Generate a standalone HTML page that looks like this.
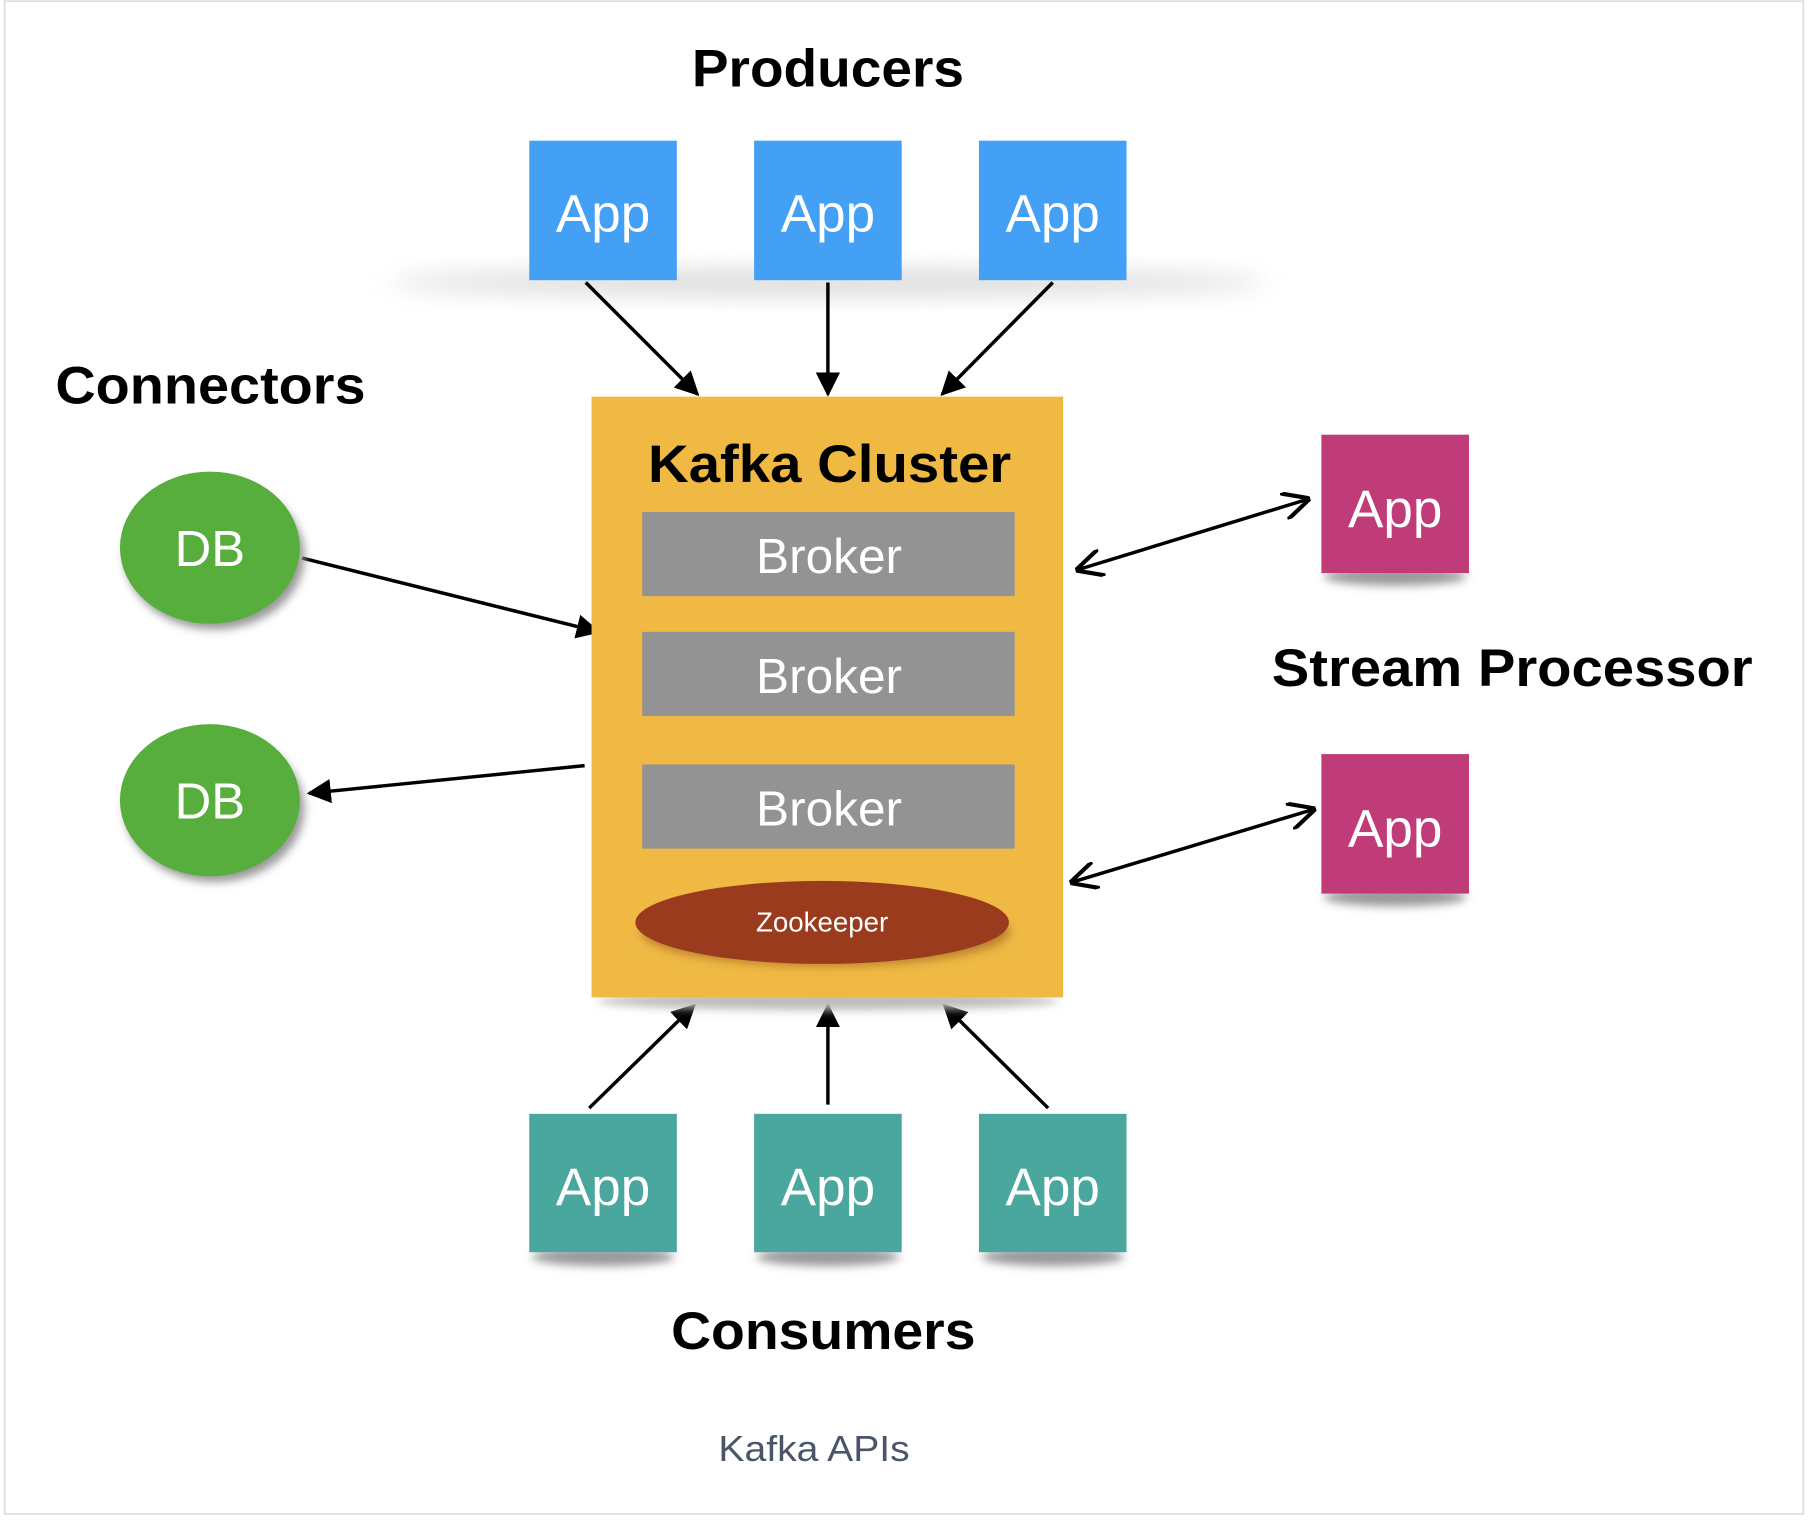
<!DOCTYPE html>
<html><head><meta charset="utf-8"><style>html,body{margin:0;padding:0;background:#fff}svg{display:block}</style></head>
<body>
<svg width="1808" height="1522" viewBox="0 0 1568 1320" xmlns="http://www.w3.org/2000/svg" font-family="Liberation Sans, sans-serif">
<defs>
<marker id="ah" viewBox="0 0 10 10" refX="9" refY="5" markerWidth="7" markerHeight="7" orient="auto-start-reverse"><path d="M0,0 L10,5 L0,10 z" fill="#000"/></marker>
<marker id="ao" viewBox="0 0 10 10" refX="9" refY="5" markerWidth="8" markerHeight="8" orient="auto-start-reverse"><path d="M0,0 L10,5 L0,10" fill="none" stroke="#000" stroke-width="1.5"/></marker>
<filter id="bl" x="-50%" y="-50%" width="200%" height="200%"><feGaussianBlur stdDeviation="10"/></filter>
<filter id="bs" x="-20%" y="-50%" width="140%" height="200%"><feGaussianBlur stdDeviation="4"/></filter>
</defs>
<rect x="4" y="1" width="1560" height="1312" fill="#fff" stroke="#ddd" stroke-width="1.5"/>
<text x="600" y="75" font-size="46" font-weight="bold" textLength="236" lengthAdjust="spacingAndGlyphs">Producers</text>
<ellipse cx="718" cy="245" rx="380" ry="12" fill="#ddd" filter="url(#bl)"/>
<g font-size="46" fill="#fff" text-anchor="middle">
<rect x="459" y="122" width="128" height="121" fill="#44a0f5"/><text x="523" y="201">App</text>
<rect x="654" y="122" width="128" height="121" fill="#44a0f5"/><text x="718" y="201">App</text>
<rect x="849" y="122" width="128" height="121" fill="#44a0f5"/><text x="913" y="201">App</text>
</g>
<g stroke="#000" stroke-width="3" marker-end="url(#ah)">
<line x1="508" y1="245" x2="605" y2="342"/><line x1="718" y1="245" x2="718" y2="342"/><line x1="913" y1="245" x2="817" y2="342"/>
<line x1="511" y1="961" x2="602" y2="872"/><line x1="718" y1="958" x2="718" y2="872"/><line x1="909" y1="961" x2="819" y2="872"/>
<line x1="262" y1="484" x2="519" y2="548"/><line x1="507" y1="664" x2="268" y2="688"/>
</g>
<g stroke="#000" stroke-width="3" marker-end="url(#ao)" marker-start="url(#ao)">
<line x1="935" y1="494" x2="1134" y2="433"/><line x1="930" y1="765" x2="1139" y2="702"/>
</g>
<ellipse cx="718" cy="868" rx="200" ry="8" fill="#bbb" filter="url(#bs)"/>
<rect x="513" y="344" width="409" height="521" fill="#efb944"/>
<text x="562" y="418" font-size="46" font-weight="bold" textLength="315" lengthAdjust="spacingAndGlyphs">Kafka Cluster</text>
<g font-size="43" fill="#fff" text-anchor="middle">
<rect x="557" y="444" width="323" height="73" fill="#939393"/><text x="719" y="497">Broker</text>
<rect x="557" y="548" width="323" height="73" fill="#939393"/><text x="719" y="601">Broker</text>
<rect x="557" y="663" width="323" height="73" fill="#939393"/><text x="719" y="716">Broker</text>
</g>
<ellipse cx="716" cy="808" rx="160" ry="30" fill="#8a4a1a" opacity="0.5" filter="url(#bs)"/>
<ellipse cx="713" cy="800" rx="162" ry="36" fill="#9b3b1e"/>
<text x="713" y="808" font-size="24" fill="#fff" text-anchor="middle">Zookeeper</text>
<text x="48" y="350" font-size="46" font-weight="bold" textLength="269" lengthAdjust="spacingAndGlyphs">Connectors</text>
<ellipse cx="186" cy="482" rx="78" ry="64" fill="#999" filter="url(#bs)"/>
<ellipse cx="182" cy="475" rx="78" ry="66" fill="#57ae3c"/>
<ellipse cx="186" cy="701" rx="78" ry="64" fill="#999" filter="url(#bs)"/>
<ellipse cx="182" cy="694" rx="78" ry="66" fill="#57ae3c"/>
<g font-size="44" fill="#fff" text-anchor="middle"><text x="182" y="491">DB</text><text x="182" y="710">DB</text></g>
<ellipse cx="1210" cy="500" rx="62" ry="8" fill="#999" filter="url(#bs)"/>
<ellipse cx="1210" cy="778" rx="62" ry="8" fill="#999" filter="url(#bs)"/>
<g font-size="46" fill="#fff" text-anchor="middle">
<rect x="1146" y="377" width="128" height="120" fill="#bf3c79"/><text x="1210" y="457">App</text>
<rect x="1146" y="654" width="128" height="121" fill="#bf3c79"/><text x="1210" y="734">App</text>
</g>
<text x="1103" y="595" font-size="46" font-weight="bold" textLength="417" lengthAdjust="spacingAndGlyphs">Stream Processor</text>
<g fill="#999" filter="url(#bs)">
<ellipse cx="523" cy="1090" rx="62" ry="8"/><ellipse cx="718" cy="1090" rx="62" ry="8"/><ellipse cx="913" cy="1090" rx="62" ry="8"/>
</g>
<g font-size="46" fill="#fff" text-anchor="middle">
<rect x="459" y="966" width="128" height="120" fill="#4aa79d"/><text x="523" y="1045">App</text>
<rect x="654" y="966" width="128" height="120" fill="#4aa79d"/><text x="718" y="1045">App</text>
<rect x="849" y="966" width="128" height="120" fill="#4aa79d"/><text x="913" y="1045">App</text>
</g>
<text x="582" y="1170" font-size="46" font-weight="bold" textLength="264" lengthAdjust="spacingAndGlyphs">Consumers</text>
<text x="623" y="1267" font-size="31" fill="#4a5568" textLength="166" lengthAdjust="spacingAndGlyphs">Kafka APIs</text>
</svg>
</body></html>
